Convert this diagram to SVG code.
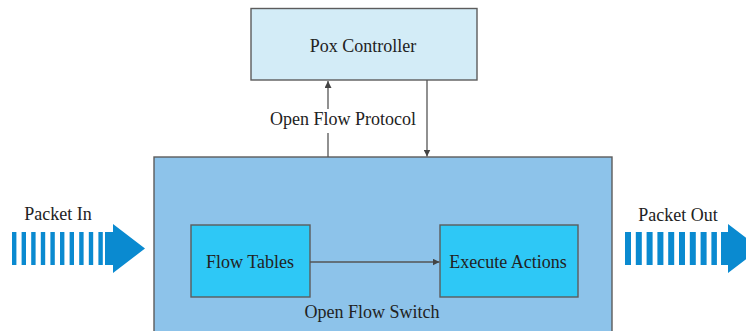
<svg xmlns="http://www.w3.org/2000/svg" width="746" height="331" viewBox="0 0 746 331">
  <style>
    text { font-family: "Liberation Serif", "Times New Roman", serif; font-size: 18px; fill: #222; text-anchor: middle; }
    .box { stroke: #5c5c5c; stroke-width: 1.4; }
    .conn { stroke: #555; stroke-width: 1.3; fill: none; }
    .flow { fill: #0a8ad0; }
  </style>
  <defs>
    <marker id="head" viewBox="0 0 10 10" refX="10" refY="5" markerWidth="7" markerHeight="7" markerUnits="userSpaceOnUse" orient="auto">
      <path d="M0,0 L10,5 L0,10 z" fill="#444"/>
    </marker>
  </defs>
  <rect width="746" height="331" fill="#ffffff"/>

  <!-- controller -->
  <g id="pox-controller">
    <rect class="box" x="251" y="8.5" width="226" height="71.5" fill="#d3ecf7"/>
    <text x="363" y="52">Pox Controller</text>
  </g>

  <!-- switch container -->
  <g id="openflow-switch">
    <rect class="box" x="154" y="157" width="458" height="190" fill="#8dc3ea"/>
    <text x="372" y="318">Open Flow Switch</text>
  </g>

  <g id="flow-tables">
    <rect class="box" x="191" y="225" width="119" height="72" fill="#2ec8f6"/>
    <text x="250" y="268">Flow Tables</text>
  </g>

  <g id="execute-actions">
    <rect class="box" x="440" y="225" width="138" height="72" fill="#2ec8f6"/>
    <text x="508" y="268">Execute Actions</text>
  </g>

  <!-- incoming packet stream -->
  <g id="packet-in">
    <text x="58" y="220">Packet In</text>
    <g class="flow">
      <rect x="12" y="232" width="4.4" height="33"/>
      <rect x="21.6" y="232" width="4.4" height="33"/>
      <rect x="31.2" y="232" width="4.4" height="33"/>
      <rect x="40.8" y="232" width="4.4" height="33"/>
      <rect x="50.4" y="232" width="4.4" height="33"/>
      <rect x="60" y="232" width="4.4" height="33"/>
      <rect x="69.6" y="232" width="4.4" height="33"/>
      <rect x="79.2" y="232" width="4.4" height="33"/>
      <rect x="88.8" y="232" width="4.4" height="33"/>
      <rect x="98.4" y="232" width="4.4" height="33"/>
      <path d="M105,232 H113 V224 L145,248.5 L113,273 V265 H105 z"/>
    </g>
  </g>

  <!-- outgoing packet stream -->
  <g id="packet-out">
    <text x="678" y="221">Packet Out</text>
    <g class="flow">
      <rect x="625" y="232" width="6" height="33"/>
      <rect x="635.8" y="232" width="6" height="33"/>
      <rect x="646.6" y="232" width="6" height="33"/>
      <rect x="657.4" y="232" width="6" height="33"/>
      <rect x="668.2" y="232" width="6" height="33"/>
      <rect x="679" y="232" width="6" height="33"/>
      <rect x="689.8" y="232" width="6" height="33"/>
      <rect x="700.6" y="232" width="6" height="33"/>
      <rect x="711.4" y="232" width="5.5" height="33"/>
      <path d="M721,232 H728 V224 L760,248.5 L728,273 V265 H721 z"/>
    </g>
  </g>

  <!-- connectors -->
  <g id="connectors">
    <line class="conn" x1="328" y1="157" x2="328" y2="81" marker-end="url(#head)"/>
    <line class="conn" x1="427" y1="80" x2="427" y2="156.5" marker-end="url(#head)"/>
    <line class="conn" x1="310" y1="262" x2="439.5" y2="262" stroke="#444" marker-end="url(#head)"/>
    <rect x="266" y="109" width="154" height="24" fill="#ffffff"/>
    <text x="343" y="125">Open Flow Protocol</text>
  </g>
</svg>
